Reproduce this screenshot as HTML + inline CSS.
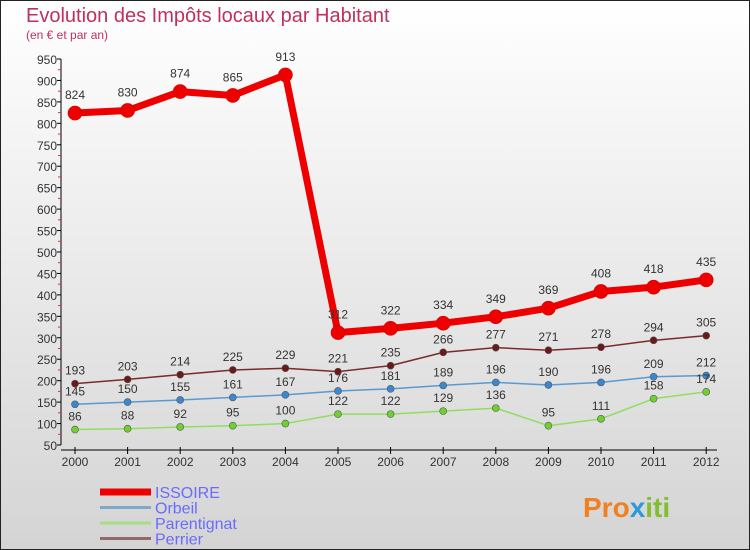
<!DOCTYPE html>
<html><head><meta charset="utf-8"><style>
body{margin:0;}
#wrap{width:750px;height:550px;position:relative;box-sizing:border-box;border:1px solid #222;background:linear-gradient(#ffffff,#d4d4d4);font-family:"Liberation Sans","DejaVu Sans",sans-serif;overflow:hidden}
.t{font-size:12px;fill:#333}
</style></head><body>
<div id="wrap">
<svg id="svg" width="750" height="550" style="position:absolute;left:-1px;top:-1px">
<text x="26" y="22" font-size="20" fill="#c0305a">Evolution des Impôts locaux par Habitant</text>
<text x="26" y="39" font-size="12" fill="#c0305a">(en € et par an)</text>
<g id="axes"></g><g id="series"></g><g id="legend"></g>
<text x="583" y="517" font-size="28" font-weight="bold" fill="#f08020">Pro<tspan fill="#2a9ad8">x</tspan><tspan fill="#80c030">iti</tspan></text>
</svg>
</div>
<script>
const years=[2000,2001,2002,2003,2004,2005,2006,2007,2008,2009,2010,2011,2012];
const yTicks=[50,100,150,200,250,300,350,400,450,500,550,600,650,700,750,800,850,900,950];
const seriesNames=["ISSOIRE","Orbeil","Parentignat","Perrier"];
const issoire=[824,830,874,865,913,312,322,334,349,369,408,418,435];
const orbeil=[145,150,155,161,167,176,181,189,196,190,196,209,212];
const parentignat=[86,88,92,95,100,122,122,129,136,95,111,158,174];
const perrier=[193,203,214,225,229,221,235,266,277,271,278,294,305];
const NS="http://www.w3.org/2000/svg";
function X(i){return 75+i*52.6;}
function Y(v){return 445-(v-50)*386/900;}
function mk(tag,attrs,parent){const e=document.createElementNS(NS,tag);for(const k in attrs)e.setAttribute(k,attrs[k]);parent.appendChild(e);return e;}
const ax=document.getElementById('axes');
let yl=mk('line',{x1:61,y1:Y(950),x2:61,y2:Y(50),stroke:'#000'},ax);


yTicks.forEach(v=>{
 const l=mk('line',{x1:57,x2:61,y1:Y(v),y2:Y(v),stroke:'#000'},ax);
 
 
 if(v<950){
 const m=mk('line',{x1:58,x2:61,y1:Y(v+25),y2:Y(v+25),stroke:'#e03030'},ax);
 
 
 }
 const t=mk('text',{x:57,y:Y(v)+5,'text-anchor':'end',class:'t'},ax);t.textContent=v;
 
 
});
let xl=mk('line',{x1:61,y1:450,x2:717,y2:450,stroke:'#000'},ax);


years.forEach((yr,i)=>{
 const l=mk('line',{x1:X(i),x2:X(i),y1:447,y2:454,stroke:'#000'},ax);
 
 
 const t=mk('text',{x:X(i),y:466,'text-anchor':'middle',class:'t'},ax);t.textContent=yr;
 
 
});
const sg=document.getElementById('series');
const defs=[[issoire,'#ee0000',7,7],[orbeil,'#5a9ad0',1.5,3.5],[parentignat,'#90dd60',1.5,3.5],[perrier,'#7a2a2a',1.5,3.5]];
const dotCol=['#ee0000','#3a88d0','#70d030','#6a1a1a'];
defs.forEach((d,k)=>{
 const pts=d[0].map((v,i)=>X(i)+','+Y(v)).join(' ');
 const pl=mk('polyline',{points:pts,fill:'none',stroke:d[1],'stroke-width':d[2],'stroke-linejoin':'round'},sg);
 
 
 d[0].forEach((v,i)=>{
  const c=mk('circle',{cx:X(i),cy:Y(v),r:d[3],fill:dotCol[k],stroke:k==0?'#cc0000':'#555','stroke-width':0.6},sg);
  
  
  const t=mk('text',{x:X(i),y:Y(v)-(k==0?14:9),'text-anchor':'middle',class:'t'},sg);t.textContent=v;
  
  
 });
});
const lg=document.getElementById('legend');
const lcol=['#ee0000','#80a8c8','#a8dd88','#906a6a'];
seriesNames.forEach((n,k)=>{
 const y=492+k*15.5;
 const l=mk('line',{x1:100,x2:151,y1:y,y2:y,stroke:lcol[k],'stroke-width':k==0?7:3},lg);
 
 
 const t=mk('text',{x:155,y:y+6,'font-size':16,fill:'#6a6aff'},lg);t.textContent=n;
 
 
});
</script>
</body></html>
